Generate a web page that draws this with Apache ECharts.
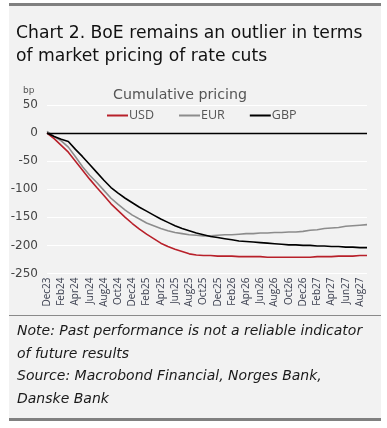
<!DOCTYPE html>
<html><head><meta charset="utf-8">
<script src="https://cdn.jsdelivr.net/npm/echarts@6/dist/echarts.min.js"></script>
<style>html,body{margin:0;padding:0;background:#fff;}#c{width:387px;height:428px;}</style>
</head><body><div id="c"></div>
<script>
const months = ["Dec23","Jan24","Feb24","Mar24","Apr24","May24","Jun24","Jul24","Aug24","Sep24","Oct24","Nov24","Dec24",
"Jan25","Feb25","Mar25","Apr25","May25","Jun25","Jul25","Aug25","Sep25","Oct25","Nov25","Dec25",
"Jan26","Feb26","Mar26","Apr26","May26","Jun26","Jul26","Aug26","Sep26","Oct26","Nov26","Dec26",
"Jan27","Feb27","Mar27","Apr27","May27","Jun27","Jul27","Aug27","Sep27"];
const usd = [0,-10,-22,-34,-50,-66,-82,-97,-111,-126,-138,-150,-161,-171,-180,-188,-196,-202,-207,-211,-215,-217,-218,-218,-219,-219,-219,-220,-220,-220,-220,-221,-221,-221,-221,-221,-221,-221,-220,-220,-220,-219,-219,-219,-218,-218];
const eur = [3,-6,-14,-25,-42,-60,-75,-88,-102,-116,-127,-137,-146,-153,-160,-165,-170,-174,-177,-179,-181,-182,-183,-183,-182,-181,-181,-180,-179,-179,-178,-178,-177,-177,-176,-176,-175,-173,-172,-170,-169,-168,-166,-165,-164,-163];
const gbp = [0,-6,-11,-15,-29,-42,-56,-70,-84,-97,-107,-116,-124,-132,-139,-146,-153,-159,-165,-170,-174,-178,-181,-184,-186,-188,-190,-192,-193,-194,-195,-196,-197,-198,-199,-199,-200,-200,-201,-201,-202,-202,-203,-203,-204,-204];
const yTicks = {min:-250, max:50, interval:50};
const titleText = "Chart 2. BoE remains an outlier in terms\nof market pricing of rate cuts";
const noteText = "Note: Past performance is not a reliable indicator\nof future results\nSource: Macrobond Financial, Norges Bank,\nDanske Bank";

const chart = echarts.init(document.getElementById('c'), null, {renderer:'canvas'});
const lineSeries = (name, data, color, z) => ({
  name, type:'line', data, symbol:'none', z,
  lineStyle:{color, width:1.6}, itemStyle:{color}
});
const opt = {
  animation:false,
  graphic:[
    {type:'rect', shape:{x:9,y:3,width:372,height:418}, style:{fill:'#f2f2f2'}, z:-10},
    {type:'rect', shape:{x:9,y:3,width:372,height:3}, style:{fill:'#808080'}, z:-9},
    {type:'rect', shape:{x:9,y:418,width:372,height:3}, style:{fill:'#808080'}, z:-9},
    {type:'rect', shape:{x:9,y:315,width:372,height:1}, style:{fill:'#8a8a8a'}, z:-9},
    {type:'text', left:16, top:22, style:{text:titleText, font:'17.2px "DejaVu Sans"', fill:'#111', lineHeight:23}},
    {type:'text', left:23, top:86, style:{text:'bp', font:'9px "DejaVu Sans"', fill:'#555'}},
    {type:'text', left:113, top:88, style:{text:'Cumulative pricing', font:'14.2px "DejaVu Sans"', fill:'#555'}},
    {type:'text', left:17, top:320, style:{text:noteText, font:'italic 14px "DejaVu Sans"', fill:'#1a1a1a', lineHeight:22.7}}
  ],
  legend:{left:102, top:104, itemWidth:21, itemHeight:2, itemGap:25, icon:'rect',
    textStyle:{fontSize:12.5, fontFamily:'Open Sans', color:'#555', padding:[0,0,0,-4]},
    data:['USD','EUR','GBP']},
  grid:{left:47, right:20, top:105, bottom:154.5, containLabel:false},
  xAxis:{type:'category', data:months, boundaryGap:false,
    axisLine:{show:false}, axisTick:{show:false}, splitLine:{show:false},
    axisLabel:{interval:1, rotate:90, fontSize:10, fontFamily:'Open Sans', color:'#3c4050', margin:4}},
  yAxis:{type:'value', min:yTicks.min, max:yTicks.max, interval:yTicks.interval,
    axisLine:{show:false}, axisTick:{show:false},
    splitLine:{lineStyle:{color:'#ffffff', width:1.2}},
    axisLabel:{fontSize:12, fontFamily:'DejaVu Sans', color:'#444', margin:9}},
  series:[
    Object.assign(lineSeries('USD', usd, '#b8202a', 3), {markLine:{silent:true, symbol:'none', label:{show:false},
      lineStyle:{color:'#000', width:1.3, type:'solid'}, data:[{yAxis:0}]}}),
    lineSeries('EUR', eur, '#8c8c8c', 2),
    lineSeries('GBP', gbp, '#000000', 4)
  ]
};
chart.setOption(opt);
</script></body></html>
